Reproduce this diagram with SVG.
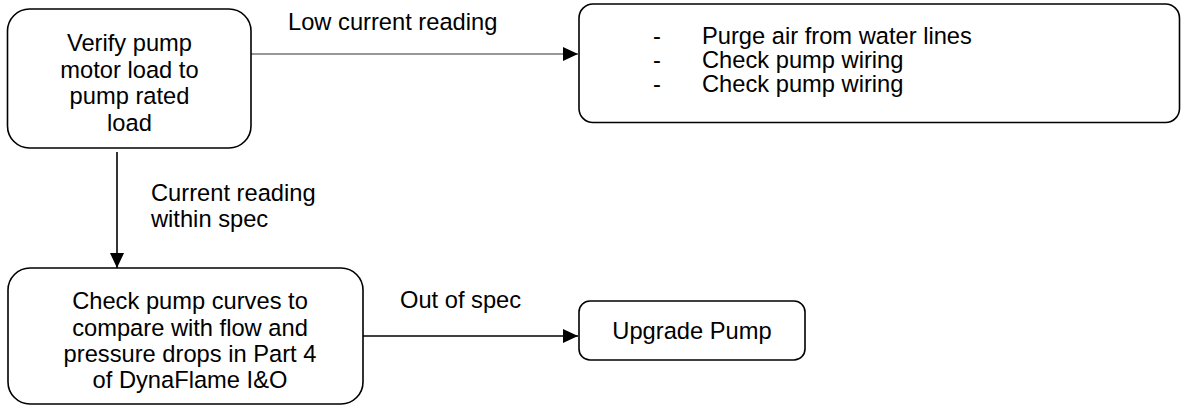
<svg xmlns="http://www.w3.org/2000/svg" width="1181" height="406" viewBox="0 0 1181 406">
<defs>
<style>
.box{fill:#fff;stroke:#000;stroke-width:1.6}
.t{font-family:"Liberation Sans",Arial,sans-serif;font-size:23.7px;fill:#000}
.c{text-anchor:middle}
.ln{stroke:#000;stroke-width:1.6;fill:none}
.thin{stroke:#333;stroke-width:1.2;fill:none}
</style>
<marker id="ah" viewBox="0 0 15 14" refX="15" refY="7" markerWidth="15" markerHeight="14" markerUnits="userSpaceOnUse" orient="auto">
<path d="M0,0 L15,7 L0,14 Z" fill="#000"/>
</marker>
</defs>
<rect width="1181" height="406" fill="#fff"/>
<g id="connectors">
<line class="thin" x1="251" y1="54" x2="578" y2="54" marker-end="url(#ah)"/>
<line class="ln" x1="117" y1="152" x2="117" y2="268" marker-end="url(#ah)"/>
<line class="ln" x1="363" y1="336" x2="578" y2="336" marker-end="url(#ah)"/>
<text class="t" x="288" y="30">Low current reading</text>
<text class="t" x="151" y="201">Current reading</text>
<text class="t" x="151" y="227">within spec</text>
<text class="t" x="400" y="308">Out of spec</text>
</g>
<g id="verify">
<rect class="box" x="7.5" y="9" width="243.5" height="139" rx="22" ry="22"/>
<text class="t c" x="129.5" y="50.5">Verify pump</text>
<text class="t c" x="129.5" y="77.5">motor load to</text>
<text class="t c" x="129.5" y="104">pump rated</text>
<text class="t c" x="129.5" y="130.5">load</text>
</g>
<g id="purge">
<rect class="box" x="579" y="4" width="600.5" height="118.5" rx="14" ry="14"/>
<text class="t" x="653" y="44">-</text>
<text class="t" x="702" y="44">Purge air from water lines</text>
<text class="t" x="653" y="68">-</text>
<text class="t" x="702" y="68">Check pump wiring</text>
<text class="t" x="653" y="92">-</text>
<text class="t" x="702" y="92">Check pump wiring</text>
</g>
<g id="curves">
<rect class="box" x="8" y="268" width="355" height="136" rx="22" ry="22"/>
<text class="t c" x="190" y="309">Check pump curves to</text>
<text class="t c" x="190" y="335.5">compare with flow and</text>
<text class="t c" x="190" y="362">pressure drops in Part 4</text>
<text class="t c" x="190" y="388">of DynaFlame I&amp;O</text>
</g>
<g id="upgrade">
<rect class="box" x="579" y="301" width="226" height="59" rx="11" ry="11"/>
<text class="t c" x="692" y="339">Upgrade Pump</text>
</g>
</svg>
